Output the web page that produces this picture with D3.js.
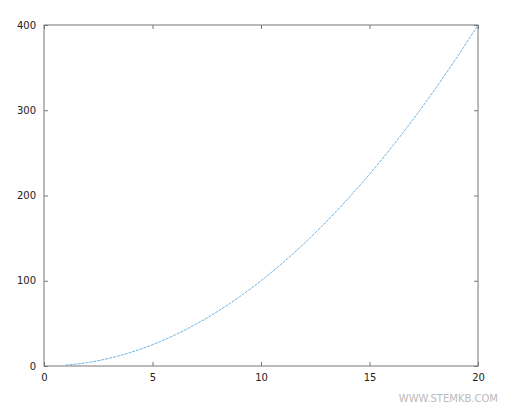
<!DOCTYPE html>
<html><head><meta charset="utf-8">
<script src="https://cdn.jsdelivr.net/npm/d3@7"></script>
<style>body{margin:0;background:#fff}text{font-family:"DejaVu Sans";font-size:10px;fill:#222}</style>
</head><body><div id="chart"></div>
<script>
// values
var xValues = [1,2,3,4,5,6,7,8,9,10,11,12,13,14,15,16,17,18,19,20];
var yValues = [1,4,9,16,25,36,49,64,81,100,121,144,169,196,225,256,289,324,361,400];
var xTicks = [0,5,10,15,20];
var yTicks = [0,100,200,300,400];

var svgWidth = 505, svgHeight = 413;
var margin = {top: 25, right: 27, bottom: 47, left: 44};
var width = svgWidth - margin.left - margin.right;
var height = svgHeight - margin.top - margin.bottom;

var svg = d3.select("#chart").append("svg")
  .attr("width", svgWidth).attr("height", svgHeight);
var g = svg.append("g").attr("transform", `translate(${margin.left},${margin.top})`);

var x = d3.scaleLinear().domain([0, 20]).range([0, width]);
var y = d3.scaleLinear().domain([0, 400]).range([height, 0]);

function style(a) {
  a.selectAll("path,line").attr("stroke", "#777");
  a.select(".domain").remove();
}
g.append("g").attr("transform", `translate(0,${height})`)
  .call(d3.axisBottom(x).tickValues(xTicks).tickSizeInner(-4).tickSizeOuter(0).tickPadding(8)).call(style);
g.append("g").call(d3.axisLeft(y).tickValues(yTicks).tickSizeInner(-4).tickSizeOuter(0).tickPadding(8)).call(style);
g.append("g").call(d3.axisTop(x).tickValues(xTicks).tickSizeInner(-4).tickSizeOuter(0).tickFormat("")).call(style);
g.append("g").attr("transform", `translate(${width},0)`)
  .call(d3.axisRight(y).tickValues(yTicks).tickSizeInner(-4).tickSizeOuter(0).tickFormat("")).call(style);

g.append("rect").attr("width", width).attr("height", height)
  .attr("fill", "none").attr("stroke", "#777").attr("stroke-width", 1);

var line = d3.line().x((d, i) => x(xValues[i])).y(d => y(d)).curve(d3.curveMonotoneX);
g.append("path").datum(yValues).attr("d", line)
  .attr("fill", "none").attr("stroke", "#4a9fd8").attr("stroke-width", 0.8)
  .attr("stroke-dasharray", "3,1");

svg.append("text").attr("x", 498).attr("y", 402).attr("text-anchor", "end")
  .style("fill", "#bbb").style("font-size", "10px").text("WWW.STEMKB.COM");
</script></body></html>
